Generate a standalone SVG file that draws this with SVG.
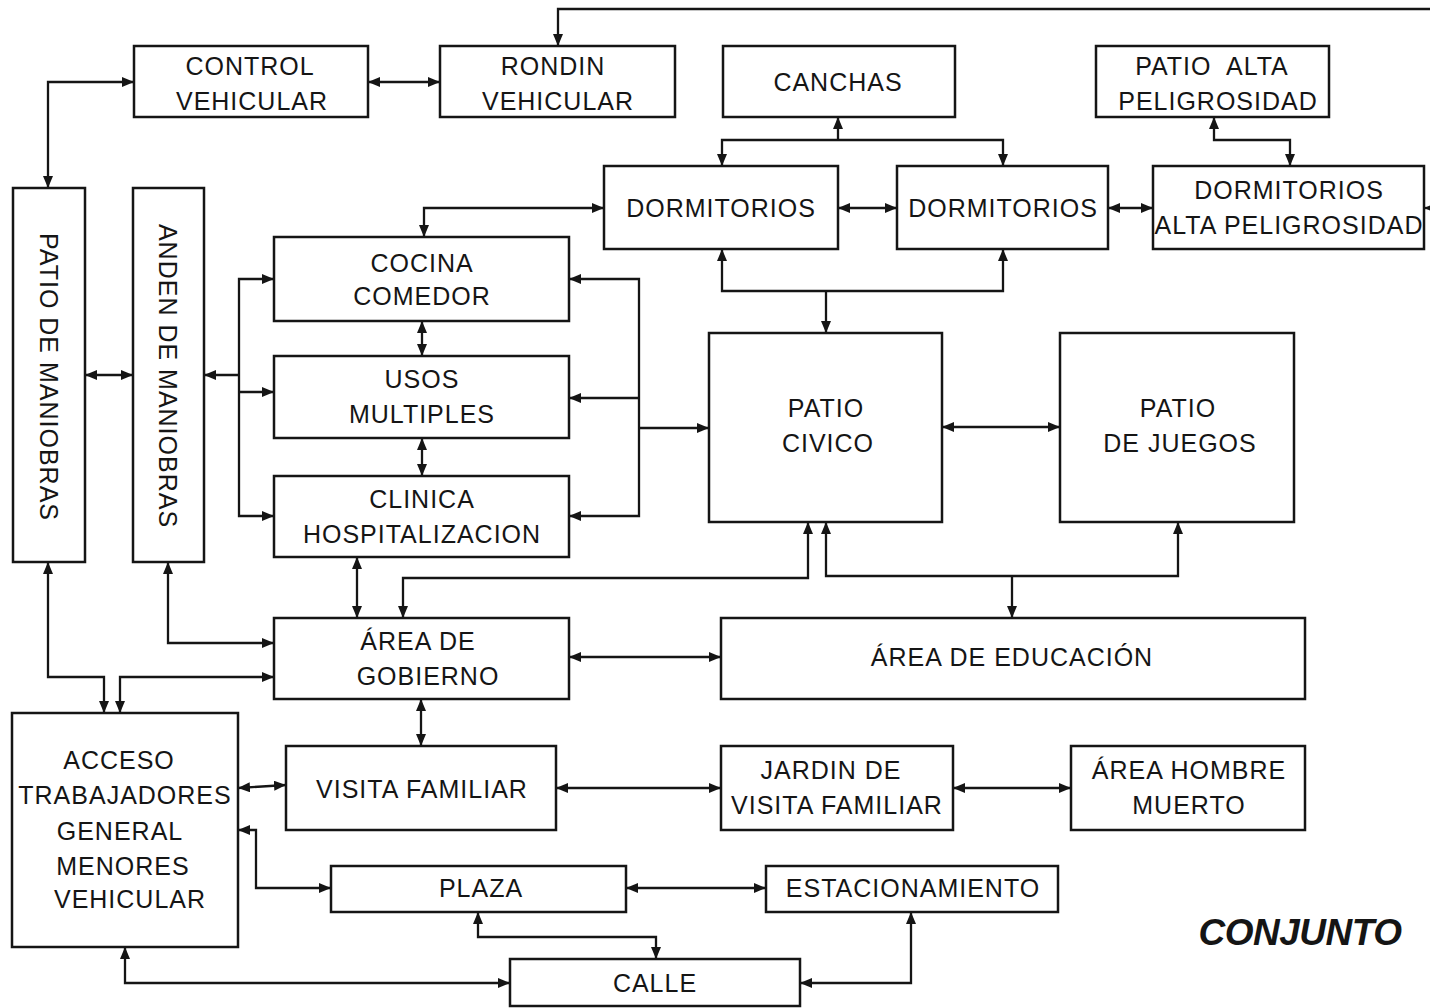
<svg xmlns="http://www.w3.org/2000/svg" width="1430" height="1008" viewBox="0 0 1430 1008">
<style>
.box{fill:#fff;stroke:#151515;stroke-width:2.5}
.t{font-family:"Liberation Sans",Arial,sans-serif;font-size:25px;fill:#151515;text-anchor:middle;letter-spacing:1px}
.c{fill:none;stroke:#151515;stroke-width:2.3}
.ttl{font-family:"Liberation Sans",Arial,sans-serif;font-size:37px;font-weight:bold;font-style:italic;fill:#151515;text-anchor:middle;letter-spacing:-0.5px}
</style>
<defs>
<marker id="a" markerUnits="userSpaceOnUse" markerWidth="14" markerHeight="12" refX="12" refY="5" orient="auto-start-reverse" viewBox="0 0 14 12">
<path d="M0,0 L12,5 L0,10 z" fill="#151515"/>
</marker>
</defs>
<rect width="1430" height="1008" fill="#fff"/>

<g id="connectors">
<path class="c" d="M1430,9 H558 V46" marker-end="url(#a)"/>
<path class="c" d="M1432,208 H1424" marker-end="url(#a)"/>
<path class="c" d="M368,82 H440" marker-start="url(#a)" marker-end="url(#a)"/>
<path class="c" d="M48,188 V82 H134" marker-start="url(#a)" marker-end="url(#a)"/>
<path class="c" d="M838,117 V140"  marker-start="url(#a)"/>
<path class="c" d="M722,166 V140 H1003 V166" marker-start="url(#a)" marker-end="url(#a)"/>
<path class="c" d="M1214,117 V140 H1290 V166" marker-start="url(#a)" marker-end="url(#a)"/>
<path class="c" d="M838,208 H897" marker-start="url(#a)" marker-end="url(#a)"/>
<path class="c" d="M1108,208 H1153" marker-start="url(#a)" marker-end="url(#a)"/>
<path class="c" d="M424,237 V208 H604" marker-start="url(#a)" marker-end="url(#a)"/>
<path class="c" d="M722,249 V291 H1003 V249" marker-start="url(#a)" marker-end="url(#a)"/>
<path class="c" d="M826,291 V333" marker-end="url(#a)"/>
<path class="c" d="M422,321 V356" marker-start="url(#a)" marker-end="url(#a)"/>
<path class="c" d="M422,438 V476" marker-start="url(#a)" marker-end="url(#a)"/>
<path class="c" d="M274,279 H239 V516 H274" marker-start="url(#a)" marker-end="url(#a)"/>
<path class="c" d="M239,392 H274" marker-end="url(#a)"/>
<path class="c" d="M239,375 H204" marker-end="url(#a)"/>
<path class="c" d="M85,375 H133" marker-start="url(#a)" marker-end="url(#a)"/>
<path class="c" d="M569,279 H639 V516 H569" marker-start="url(#a)" marker-end="url(#a)"/>
<path class="c" d="M639,398 H569" marker-end="url(#a)"/>
<path class="c" d="M639,428 H709" marker-end="url(#a)"/>
<path class="c" d="M942,427 H1060" marker-start="url(#a)" marker-end="url(#a)"/>
<path class="c" d="M357,557 V618" marker-start="url(#a)" marker-end="url(#a)"/>
<path class="c" d="M403,618 V578 H808 V522" marker-start="url(#a)" marker-end="url(#a)"/>
<path class="c" d="M826,522 V576 H1178 V522" marker-start="url(#a)" marker-end="url(#a)"/>
<path class="c" d="M1012,576 V618" marker-end="url(#a)"/>
<path class="c" d="M569,657 H721" marker-start="url(#a)" marker-end="url(#a)"/>
<path class="c" d="M168,562 V643 H274" marker-start="url(#a)" marker-end="url(#a)"/>
<path class="c" d="M48,562 V677 H104 V713" marker-start="url(#a)" marker-end="url(#a)"/>
<path class="c" d="M120,713 V677 H274" marker-start="url(#a)" marker-end="url(#a)"/>
<path class="c" d="M421,699 V746" marker-start="url(#a)" marker-end="url(#a)"/>
<path class="c" d="M238,788 L286,785" marker-start="url(#a)" marker-end="url(#a)"/>
<path class="c" d="M556,788 H721" marker-start="url(#a)" marker-end="url(#a)"/>
<path class="c" d="M953,788 H1071" marker-start="url(#a)" marker-end="url(#a)"/>
<path class="c" d="M238,830 H256 V888 H331" marker-start="url(#a)" marker-end="url(#a)"/>
<path class="c" d="M626,888 H766" marker-start="url(#a)" marker-end="url(#a)"/>
<path class="c" d="M478,912 V937 H656 V959" marker-start="url(#a)" marker-end="url(#a)"/>
<path class="c" d="M125,947 V983 H510" marker-start="url(#a)" marker-end="url(#a)"/>
<path class="c" d="M800,983 H911 V912" marker-start="url(#a)" marker-end="url(#a)"/>
</g>

<g id="control-vehicular"><rect class="box" x="134" y="46" width="234" height="71"/><text class="t" x="250" y="75">CONTROL</text><text class="t" x="252" y="110">VEHICULAR</text></g>
<g id="rondin-vehicular"><rect class="box" x="440" y="46" width="235" height="71"/><text class="t" x="553" y="75">RONDIN</text><text class="t" x="558" y="110">VEHICULAR</text></g>
<g id="canchas"><rect class="box" x="723" y="46" width="232" height="71"/><text class="t" x="838" y="91">CANCHAS</text></g>
<g id="patio-alta"><rect class="box" x="1096" y="46" width="233" height="71"/><text class="t" x="1212" y="75" xml:space="preserve">PATIO  ALTA</text><text class="t" x="1218" y="110">PELIGROSIDAD</text></g>
<g id="dormitorios-1"><rect class="box" x="604" y="166" width="234" height="83"/><text class="t" x="721" y="217">DORMITORIOS</text></g>
<g id="dormitorios-2"><rect class="box" x="897" y="166" width="211" height="83"/><text class="t" x="1003" y="217">DORMITORIOS</text></g>
<g id="dormitorios-alta"><rect class="box" x="1153" y="166" width="271" height="83"/><text class="t" x="1289" y="199">DORMITORIOS</text><text class="t" x="1289" y="234">ALTA PELIGROSIDAD</text></g>
<g id="patio-maniobras"><rect class="box" x="13" y="188" width="72" height="374"/><text class="t" transform="translate(49,377) rotate(90)" x="0" y="9">PATIO DE MANIOBRAS</text></g>
<g id="anden-maniobras"><rect class="box" x="133" y="188" width="71" height="374"/><text class="t" transform="translate(168,376) rotate(90)" x="0" y="9">ANDEN DE MANIOBRAS</text></g>
<g id="cocina"><rect class="box" x="274" y="237" width="295" height="84"/><text class="t" x="422" y="272">COCINA</text><text class="t" x="422" y="305">COMEDOR</text></g>
<g id="usos"><rect class="box" x="274" y="356" width="295" height="82"/><text class="t" x="422" y="388">USOS</text><text class="t" x="422" y="423">MULTIPLES</text></g>
<g id="clinica"><rect class="box" x="274" y="476" width="295" height="81"/><text class="t" x="422" y="508">CLINICA</text><text class="t" x="422" y="543">HOSPITALIZACION</text></g>
<g id="patio-civico"><rect class="box" x="709" y="333" width="233" height="189"/><text class="t" x="826" y="417">PATIO</text><text class="t" x="828" y="452">CIVICO</text></g>
<g id="patio-juegos"><rect class="box" x="1060" y="333" width="234" height="189"/><text class="t" x="1178" y="417">PATIO</text><text class="t" x="1180" y="452">DE JUEGOS</text></g>
<g id="area-gobierno"><rect class="box" x="274" y="618" width="295" height="81"/><text class="t" x="418" y="650">ÁREA DE</text><text class="t" x="428" y="685">GOBIERNO</text></g>
<g id="area-educacion"><rect class="box" x="721" y="618" width="584" height="81"/><text class="t" x="1012" y="666">ÁREA DE EDUCACIÓN</text></g>
<g id="acceso"><rect class="box" x="12" y="713" width="226" height="234"/><text class="t" x="119" y="769">ACCESO</text><text class="t" x="125" y="804">TRABAJADORES</text><text class="t" x="120" y="840">GENERAL</text><text class="t" x="123" y="875">MENORES</text><text class="t" x="130" y="908">VEHICULAR</text></g>
<g id="visita-familiar"><rect class="box" x="286" y="746" width="270" height="84"/><text class="t" x="422" y="798">VISITA FAMILIAR</text></g>
<g id="jardin"><rect class="box" x="721" y="746" width="232" height="84"/><text class="t" x="831" y="779">JARDIN DE</text><text class="t" x="837" y="814">VISITA FAMILIAR</text></g>
<g id="hombre-muerto"><rect class="box" x="1071" y="746" width="234" height="84"/><text class="t" x="1189" y="779">ÁREA HOMBRE</text><text class="t" x="1189" y="814">MUERTO</text></g>
<g id="plaza"><rect class="box" x="331" y="866" width="295" height="46"/><text class="t" x="481" y="897">PLAZA</text></g>
<g id="estacionamiento"><rect class="box" x="766" y="866" width="292" height="46"/><text class="t" x="913" y="897">ESTACIONAMIENTO</text></g>
<g id="calle"><rect class="box" x="510" y="959" width="290" height="47"/><text class="t" x="655" y="992">CALLE</text></g>
<text class="ttl" x="1300" y="945">CONJUNTO</text>
</svg>
